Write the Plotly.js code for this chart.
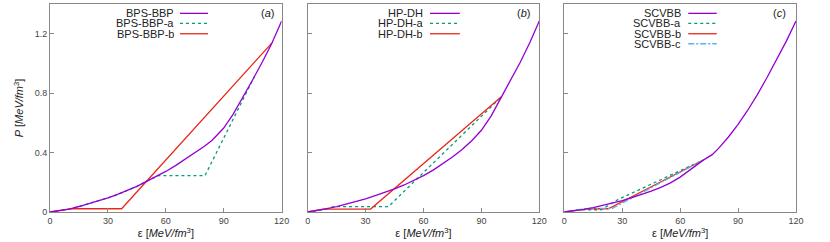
<!DOCTYPE html>
<html>
<head>
<meta charset="utf-8">
<script src="https://cdn.plot.ly/plotly-3.0.1.min.js"></script>
<style>html,body{margin:0;padding:0;background:#fff;}#chart{width:830px;height:242px;}</style>
</head>
<body>
<div id="chart"></div>
<script>
// ---------- Data ----------
const xTicks = [0, 30, 60, 90, 120];
const yTicks = [0, 0.4, 0.8, 1.2];
const yTickText = ['0', '0.4', '0.8', '1.2'];

// Panel (a)
const namesA = ['BPS-BBP', 'BPS-BBP-a', 'BPS-BBP-b'];
const epsA = [0,5,10,15,20,25,30,35,40,45,50,55,60,65,70,75,80,84,87,90,95,100,105,110,115,120];
const pA   = [0,0.008,0.02,0.037,0.055,0.074,0.095,0.118,0.143,0.172,0.206,0.238,0.273,0.312,0.355,0.4,0.443,0.483,0.522,0.565,0.66,0.772,0.89,1.01,1.138,1.285];
const epsAa = [0,5,10,15,20,25,30,35,40,45,50,55,56.2,80.3,106];
const pAa   = [0,0.008,0.02,0.037,0.055,0.074,0.095,0.118,0.143,0.172,0.206,0.238,0.245,0.245,0.914];
const epsAb = [0,5,10,11.5,37.1,115];
const pAb   = [0,0.008,0.02,0.022,0.022,1.138];

// Panel (b)
const namesB = ['HP-DH', 'HP-DH-a', 'HP-DH-b'];
const epsB = [0,5,10,15,20,25,30,35,40,45,50,55,60,65,71.5,75,80,85,90,95,100,105,110,115,120];
const pB   = [0,0.01,0.022,0.036,0.052,0.07,0.089,0.11,0.132,0.155,0.182,0.212,0.245,0.282,0.337,0.37,0.42,0.48,0.55,0.645,0.765,0.885,1.005,1.138,1.285];
const epsBa = [0,5,10,13.5,41.8,100.5];
const pBa   = [0,0.01,0.022,0.036,0.036,0.777];
const epsBb = [0,5,8.5,32.6,100.5];
const pBb   = [0,0.01,0.02,0.02,0.777];

// Panel (c)
const namesC = ['SCVBB', 'SCVBB-a', 'SCVBB-b', 'SCVBB-c'];
const epsC = [0,5,10,15,20,25,30,35,40,45,50,55,60,65,70,72,76.6,80,85,90,95,100,105,110,115,120];
const pC   = [0,0.008,0.018,0.03,0.044,0.06,0.077,0.096,0.117,0.14,0.166,0.196,0.235,0.282,0.33,0.349,0.386,0.43,0.505,0.59,0.685,0.79,0.905,1.025,1.15,1.285];
const epsCa = [0,5,8.5,19,28,72];
const pCa   = [0,0.008,0.015,0.015,0.085,0.35];
const epsCb = [0,5,10,13,22.8,72];
const pCb   = [0,0.008,0.018,0.022,0.022,0.35];
const epsCc = [0,5,10,12.5,25,72];
const pCc   = [0,0.008,0.018,0.025,0.025,0.35];

// ---------- Styles ----------
const PURPLE = '#9400d3', GREEN = '#009e73', RED = '#e8281c', BLUE = '#56b4e9';
const LW = 1.3;
const styles = {
  solidP: {color: PURPLE, width: LW, dash: 'solid'},
  dotG:   {color: GREEN, width: LW, dash: '3px,3px'},
  solidR: {color: RED, width: LW, dash: 'solid'},
  dashB:  {color: BLUE, width: LW, dash: '6px,2px,2px,2px'}
};

function tr(x, y, name, line, xa, ya) {
  return {x: x, y: y, name: name, type: 'scatter', mode: 'lines', line: line,
          xaxis: xa, yaxis: ya, showlegend: false, hoverinfo: 'skip'};
}

const data = [
  tr(epsAa, pAa, namesA[1], styles.dotG, 'x', 'y'),
  tr(epsAb, pAb, namesA[2], styles.solidR, 'x', 'y'),
  tr(epsA, pA, namesA[0], styles.solidP, 'x', 'y'),

  tr(epsBa, pBa, namesB[1], styles.dotG, 'x2', 'y2'),
  tr(epsBb, pBb, namesB[2], styles.solidR, 'x2', 'y2'),
  tr(epsB, pB, namesB[0], styles.solidP, 'x2', 'y2'),

  tr(epsCa, pCa, namesC[1], styles.dotG, 'x3', 'y3'),
  tr(epsCb, pCb, namesC[2], styles.solidR, 'x3', 'y3'),
  tr(epsCc, pCc, namesC[3], styles.dashB, 'x3', 'y3'),
  tr(epsC, pC, namesC[0], styles.solidP, 'x3', 'y3')
];

const FONT = 'Liberation Sans, Arial, sans-serif';
const AXC = '#888';
function xax(domain, yanchor) {
  return {domain: domain, anchor: yanchor, range: [0, 120], tickmode: 'array', tickvals: xTicks,
    ticks: 'inside', ticklen: 4, tickwidth: 1, tickcolor: AXC, showline: true, linecolor: AXC, linewidth: 1,
    mirror: true, showgrid: false, zeroline: false, tickfont: {family: FONT, size: 9, color: '#444'},
    title: {text: 'ε [<i>MeV/fm</i><sup>3</sup>]', font: {family: FONT, size: 11, color: '#222'}, standoff: 2}};
}
function yax(xanchor, labels) {
  const a = {domain: [0, 1], anchor: xanchor, range: [0, 1.4], tickmode: 'array', tickvals: yTicks, ticktext: yTickText,
    ticks: 'inside', ticklen: 4, tickwidth: 1, tickcolor: AXC, showline: true, linecolor: AXC, linewidth: 1,
    mirror: true, showgrid: false, zeroline: false, showticklabels: labels,
    tickfont: {family: FONT, size: 9, color: '#444'}};
  if (labels) a.title = {text: '<i>P</i> [<i>MeV/fm</i><sup>3</sup>]', font: {family: FONT, size: 11, color: '#222'}, standoff: 8};
  return a;
}

// legend built as text + line samples (gnuplot style: text then sample)
const annotations = [];
const shapes = [];
function addLegend(xr, yr, names, lines, textX, x0, x1, rows) {
  names.forEach((n, i) => {
    annotations.push({xref: xr + ' domain', yref: yr + ' domain', x: textX, y: rows[i], text: n,
      showarrow: false, xanchor: 'right', yanchor: 'middle', height: 10, borderpad: 0,
      font: {family: FONT, size: 11, color: '#222'}});
    shapes.push({type: 'line', xref: xr + ' domain', yref: yr + ' domain', x0: x0, x1: x1, y0: rows[i], y1: rows[i],
      line: lines[i]});
  });
}
const rows = [0.955, 0.907, 0.857, 0.809];
addLegend('x', 'y', namesA, [styles.solidP, styles.dotG, styles.solidR], 0.54, 0.561, 0.682, rows);
addLegend('x2', 'y2', namesB, [styles.solidP, styles.dotG, styles.solidR], 0.502, 0.528, 0.657, rows);
addLegend('x3', 'y3', namesC, [styles.solidP, styles.dotG, styles.solidR, styles.dashB], 0.507, 0.535, 0.658, rows);

const panelLabels = [['x', 'y', '(<i>a</i>)', 0.937], ['x2', 'y2', '(<i>b</i>)', 0.931], ['x3', 'y3', '(<i>c</i>)', 0.93]];
panelLabels.forEach(p => annotations.push({xref: p[0] + ' domain', yref: p[1] + ' domain', x: p[3], y: 0.957,
  text: p[2], showarrow: false, xanchor: 'center', yanchor: 'middle', font: {family: FONT, size: 11, color: '#222'}}));

const layout = {
  width: 830, height: 242,
  margin: {l: 50, r: 34, t: 4, b: 30},
  paper_bgcolor: '#fff', plot_bgcolor: '#fff',
  showlegend: false,
  xaxis: xax([0, 0.3105], 'y'),
  yaxis: yax('x', true),
  xaxis2: xax([0.3454, 0.6559], 'y2'),
  yaxis2: yax('x2', false),
  xaxis3: xax([0.6894, 1], 'y3'),
  yaxis3: yax('x3', false),
  annotations: annotations,
  shapes: shapes
};

Plotly.newPlot('chart', data, layout, {displayModeBar: false, staticPlot: true});
</script>
</body>
</html>
